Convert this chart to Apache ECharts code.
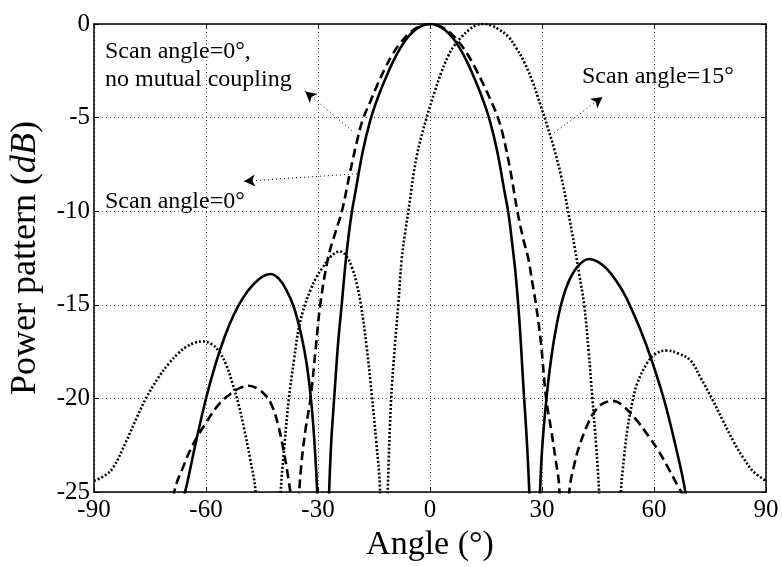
<!DOCTYPE html>
<html>
<head>
<meta charset="utf-8">
<script src="https://cdn.jsdelivr.net/npm/echarts@6/dist/echarts.min.js"></script>
<style>html,body{margin:0;padding:0;background:#fff;}#c{width:782px;height:567px;}</style>
</head>
<body>
<div id="c"></div>
<script>
// Angle (deg) / power (dB) pairs
const withCoupling = [
  [-72,-30],[-65.6,-25],[-63,-22.6],[-60,-20],[-57.5,-18.2],[-55,-16.7],[-52.5,-15.5],[-50,-14.6],[-47.5,-13.95],
  [-45,-13.5],[-42.7,-13.35],[-40.5,-13.6],[-38.5,-14.2],[-36.5,-15.1],[-34.5,-16.6],[-33,-18.2],[-31.8,-20.2],
  [-30.8,-22.8],[-30,-26],[-29.2,-32],[-28.2,-32],[-27.2,-26],[-26.5,-22.5],[-25.6,-19.8],[-24.6,-17],[-23.6,-14.9],
  [-22.7,-12.9],[-21.8,-11.3],[-20.9,-10],[-20,-9],[-18,-6.8],[-16,-5.15],[-14,-3.95],[-12,-2.95],[-10,-2.05],
  [-8,-1.3],[-6,-0.72],[-4,-0.32],[-2,-0.08],[0,0],[2,-0.08],[4,-0.32],[6,-0.72],[8,-1.3],[10,-2.05],[12,-2.95],
  [14,-3.95],[16,-5.15],[18,-6.8],[20,-9],[21,-10.1],[22,-11.7],[23,-13.5],[24,-16],[25,-19.3],[26,-22.5],[26.8,-26],
  [27.8,-33],[28.5,-33],[29.3,-26],[30,-22.8],[31.2,-20],[32.5,-17.8],[34,-16],[35.5,-14.7],[37.5,-13.6],[40,-12.85],
  [42.6,-12.55],[45,-12.7],[47.5,-13.1],[50,-13.75],[52,-14.4],[53.7,-15.1],[56.5,-16.4],[59.1,-17.8],[62.6,-20],
  [65.5,-22.3],[68.4,-25],[71,-29]
];
const noCoupling = [
  [-71,-29],[-68.5,-25],[-66,-23.6],[-63.6,-22.5],[-60,-21.3],[-56.5,-20.3],[-53.4,-19.75],[-51,-19.45],[-48.5,-19.32],
  [-46,-19.5],[-44,-19.85],[-42.3,-20.4],[-40.7,-21.4],[-39.2,-22.8],[-38,-24.2],[-36.9,-26],[-36.2,-31],[-35.3,-26],
  [-34.5,-23.6],[-33.3,-21.6],[-32,-20],[-30.6,-17.3],[-29.4,-15],[-27.3,-12.5],[-25.3,-11.1],[-23.6,-10],
  [-21.5,-8],[-19.6,-6.3],[-18,-5.1],[-16,-4.15],[-14,-3.2],[-12,-2.35],[-10,-1.6],[-8,-1.03],[-6,-0.58],[-4,-0.26],
  [-2,-0.06],[0,0],[2,-0.06],[4,-0.26],[6,-0.58],[8,-1.03],[10,-1.6],[12,-2.3],[14,-3.1],[16,-3.95],[18,-4.9],
  [19.5,-5.9],[21.5,-7.8],[23.4,-10],[25,-11.5],[26.3,-12.5],[27.4,-13.8],[28.4,-15],[29.7,-17],[31.1,-20],
  [32.4,-21.6],[33.6,-23.2],[34.6,-24.7],[35.9,-31],[37.3,-25],[38.8,-23.4],[40.4,-22.3],[42.2,-21.4],[43.9,-20.75],
  [46.5,-20.25],[49.3,-20.14],[52,-20.45],[55.5,-21.2],[58.5,-22],[60.9,-22.7],[63.5,-23.6],[66.2,-24.6],[68,-25.3],
  [70,-27]
];
const scan15 = [
  [-90,-24.4],[-87,-24.1],[-84.9,-23.7],[-81.4,-22.3],[-78.5,-21],[-76.1,-20],[-72.8,-18.9],[-69.8,-18.1],
  [-67.5,-17.6],[-65.4,-17.26],[-63,-17.03],[-60.9,-16.95],[-58.5,-17.1],[-56.5,-17.5],[-54.6,-18.2],[-52.9,-19.2],
  [-51.3,-20.3],[-49.8,-21.6],[-48.2,-23.2],[-46.7,-25],[-45,-31],[-43.3,-28],[-41.5,-31],[-40,-25],[-38.9,-22.3],
  [-37.8,-20],[-36.4,-17.9],[-35.1,-16.2],[-33.5,-15],[-32,-14.2],[-30.5,-13.55],[-28.9,-13.05],[-26.5,-12.4],
  [-24,-12.15],[-22.4,-12.4],[-20.9,-13],[-19.6,-13.9],[-18.5,-15],[-17,-17.2],[-15.6,-19.8],[-14.4,-22.3],
  [-13.4,-24.8],[-12.4,-32],[-11.3,-24.8],[-10.4,-20],[-9.4,-17.2],[-8.5,-15],[-7.6,-12.6],[-6.7,-11.2],[-5.8,-10],
  [-3.6,-7.1],[-0.9,-5],[1.3,-3.6],[3,-2.6],[4.9,-1.7],[6.5,-1.15],[8.4,-0.7],[10.5,-0.3],[12.5,-0.06],[14.5,0],
  [16.5,-0.08],[18.5,-0.3],[20.9,-0.66],[23,-1.25],[25.3,-2.06],[27.5,-3.1],[29.7,-4.4],[31.5,-5.5],[33.3,-6.7],
  [35.1,-8.1],[36.9,-9.9],[38.8,-12],[40,-13.4],[41.3,-15],[42.5,-17.5],[43.5,-20],[44.5,-22.5],[45.3,-25],
  [46.5,-30],[48,-33],[49.5,-30],[51.1,-25],[52,-23.1],[52.9,-21.6],[54.2,-20.2],[55.5,-19.2],[58.2,-18.1],
  [60.5,-17.6],[63.5,-17.44],[66.5,-17.6],[69.7,-17.96],[72.5,-18.9],[75.5,-20],[78.5,-21.2],[81.3,-22.3],
  [84,-23.2],[86.6,-23.9],[90,-24.4]
];
const xTicks = [-90, -60, -30, 0, 30, 60, 90];
const yTicks = [-25, -20, -15, -10, -5, 0];
const labelTexts = ['Scan angle=0°,', 'no mutual coupling', 'Scan angle=0°', 'Scan angle=15°'];
// arrows: [tail, head] in data units
const arrows = [
  [[-20.9,-5.7],[-33.4,-3.6]],
  [[-19.6,-8.0],[-49.8,-8.4]],
  [[33.3,-5.8],[46.2,-3.9]]
];

const FONT = 'Liberation Serif';
const chart = echarts.init(document.getElementById('c'), null, {renderer: 'canvas'});
const gridLine = {show: true, lineStyle: {color: '#555', type: [1, 3], width: 1}};
const boxAxis = {
  axisLine: {onZero: false, lineStyle: {color: '#000', width: 1.5}},
  axisTick: {inside: true, length: 5, lineStyle: {color: '#000'}},
  axisLabel: {show: false}, splitLine: {show: false}
};
const option = {
  backgroundColor: '#fff',
  animation: false,
  grid: {left: 91, right: 16, top: 24, bottom: 66},
  xAxis: [{
    type: 'value', min: xTicks[0], max: xTicks[xTicks.length - 1], interval: 30,
    axisLine: {onZero: false, lineStyle: {color: '#000', width: 1.5}},
    axisTick: {inside: true, length: 5, lineStyle: {color: '#000'}},
    axisLabel: {color: '#000', fontFamily: FONT, fontSize: 25, margin: 6},
    splitLine: gridLine,
    name: 'Angle (°)', nameLocation: 'middle', nameGap: 30,
    nameTextStyle: {color: '#000', fontFamily: FONT, fontSize: 34}
  }, Object.assign({type: 'value', position: 'top', min: -90, max: 90, interval: 30}, boxAxis)],
  yAxis: [{
    type: 'value', min: yTicks[0], max: yTicks[yTicks.length - 1], interval: 5,
    axisLine: {onZero: false, lineStyle: {color: '#000', width: 1.5}},
    axisTick: {inside: true, length: 5, lineStyle: {color: '#000'}},
    axisLabel: {color: '#000', fontFamily: FONT, fontSize: 25, margin: 4},
    splitLine: gridLine,
    name: '{a|Power pattern (}{b|dB}{a|)}', nameLocation: 'middle', nameGap: 50,
    nameTextStyle: {rich: {
      a: {color: '#000', fontFamily: FONT, fontSize: 36},
      b: {color: '#000', fontFamily: FONT, fontSize: 36, fontStyle: 'italic'}
    }}
  }, Object.assign({type: 'value', position: 'right', min: -25, max: 0, interval: 5}, boxAxis)],
  series: [
    {type: 'line', data: withCoupling, showSymbol: false, smooth: 0.4, clip: true,
     lineStyle: {color: '#000', width: 2.6, type: 'solid'}},
    {type: 'line', data: noCoupling, showSymbol: false, smooth: 0.4, clip: true,
     lineStyle: {color: '#000', width: 2.6, type: [9, 5]}},
    {type: 'line', data: scan15, showSymbol: false, smooth: 0.4, clip: true,
     lineStyle: {color: '#000', width: 2.6, type: [2, 2]},
     markLine: {
       silent: true, symbol: ['none', 'arrow'], symbolSize: [9, 11],
       label: {show: false},
       lineStyle: {color: '#000', width: 1, type: [1, 3]},
       data: arrows.map(a => [{coord: a[0]}, {coord: a[1]}])
     }}
  ],
  graphic: [
    {type: 'text', x: 105, y: 52, style: {text: labelTexts[0], font: '24px "Liberation Serif"', fill: '#000', verticalAlign: 'middle'}},
    {type: 'text', x: 105, y: 80, style: {text: labelTexts[1], font: '24px "Liberation Serif"', fill: '#000', verticalAlign: 'middle'}},
    {type: 'text', x: 105, y: 202, style: {text: labelTexts[2], font: '24px "Liberation Serif"', fill: '#000', verticalAlign: 'middle'}},
    {type: 'text', x: 582, y: 77, style: {text: labelTexts[3], font: '24px "Liberation Serif"', fill: '#000', verticalAlign: 'middle'}}
  ]
};
chart.setOption(option);
</script>
</body>
</html>
